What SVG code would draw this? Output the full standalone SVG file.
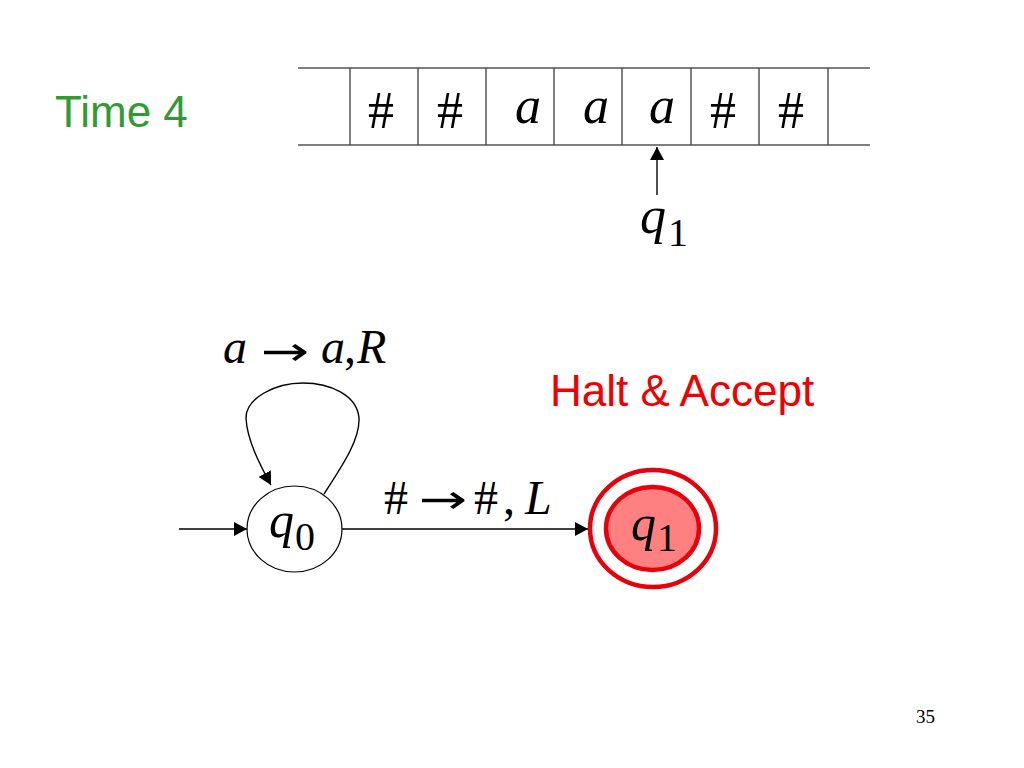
<svg xmlns="http://www.w3.org/2000/svg" width="1024" height="768" viewBox="0 0 1024 768">
<defs>
<style>
.tape{stroke:#555;stroke-width:1.5;fill:none}
.m{font-family:"Liberation Serif","Times New Roman",serif;fill:#000}
.i{font-style:italic}
.ar{font-family:"DejaVu Sans",sans-serif;fill:#000}
.edge{stroke:#000;stroke-width:1.4;fill:none}
.sans{font-family:"Liberation Sans",Arial,sans-serif}
</style>
<marker id="arr" viewBox="0 0 13 14" refX="13" refY="7" markerWidth="13" markerHeight="14" orient="auto" markerUnits="userSpaceOnUse">
<path d="M0,0 L13,7 L0,14 z" fill="#000"/>
</marker>
</defs>
<rect width="1024" height="768" fill="#fff"/>

<text x="55" y="127" class="sans" font-size="44" fill="#339933">Time 4</text>

<g id="tape">
<line class="tape" x1="298" y1="68" x2="870" y2="68"/>
<line class="tape" x1="298" y1="145" x2="870" y2="145"/>
<g class="tape">
<line x1="350" y1="68" x2="350" y2="145"/>
<line x1="418" y1="68" x2="418" y2="145"/>
<line x1="486" y1="68" x2="486" y2="145"/>
<line x1="554" y1="68" x2="554" y2="145"/>
<line x1="622" y1="68" x2="622" y2="145"/>
<line x1="691" y1="68" x2="691" y2="145"/>
<line x1="759" y1="68" x2="759" y2="145"/>
<line x1="828" y1="68" x2="828" y2="145"/>
</g>
<g class="m" font-size="52" text-anchor="middle">
<text x="381" y="128">#</text>
<text x="450" y="128">#</text>
<text x="528" y="123" class="i">a</text>
<text x="596" y="123" class="i">a</text>
<text x="662" y="123" class="i">a</text>
<text x="723" y="128">#</text>
<text x="791" y="128">#</text>
</g>
</g>

<g id="head">
<line class="edge" x1="657" y1="195" x2="657" y2="147" marker-end="url(#arr)"/>
<text class="m i" x="640" y="233" font-size="52">q</text>
<text class="m" x="668" y="246" font-size="40">1</text>
</g>

<g id="connectors">
<line class="edge" x1="179" y1="529" x2="247" y2="529" marker-end="url(#arr)"/>
<line class="edge" x1="342" y1="529" x2="588" y2="529" marker-end="url(#arr)"/>
<path class="edge" d="M324,494 C342,466 360,440 359,418 C357,395 330,383 303,383 C275,383 246,398 246,418 C247,440 260,465 271,485" marker-end="url(#arr)"/>
</g>

<g id="label-loop" class="m" font-size="48">
<text x="223" y="363" class="i">a</text>
<text class="ar" font-size="40" transform="translate(261,365) scale(1.45,1)">→</text>
<text x="321" y="363" class="i">a</text>
<text x="344" y="363">,</text>
<text x="357" y="363" class="i">R</text>
</g>

<g id="label-edge" class="m" font-size="48">
<text x="384" y="514">#</text>
<text class="ar" font-size="40" transform="translate(419,513) scale(1.45,1)">→</text>
<text x="474" y="514">#</text>
<text x="503" y="514">,</text>
<text x="525" y="514" class="i">L</text>
</g>

<g id="q0">
<ellipse cx="294.5" cy="529" rx="47.5" ry="43" fill="#fff" stroke="#000" stroke-width="1.2"/>
<text class="m i" x="269" y="537" font-size="50">q</text>
<text class="m" x="295" y="550" font-size="40">0</text>
</g>

<g id="q1">
<ellipse cx="653" cy="528.5" rx="63" ry="58.5" fill="#fff" stroke="#e8000a" stroke-width="4.5"/>
<ellipse cx="652.5" cy="528.5" rx="46.5" ry="41.5" fill="#ff8080" stroke="#e8000a" stroke-width="4.5"/>
<text class="m i" x="631" y="540" font-size="50">q</text>
<text class="m" x="657" y="551" font-size="40">1</text>
</g>

<text x="550" y="406" class="sans" font-size="44" fill="#f00000">Halt &amp; Accept</text>

<text x="916" y="723" class="m" font-size="19">35</text>
</svg>
